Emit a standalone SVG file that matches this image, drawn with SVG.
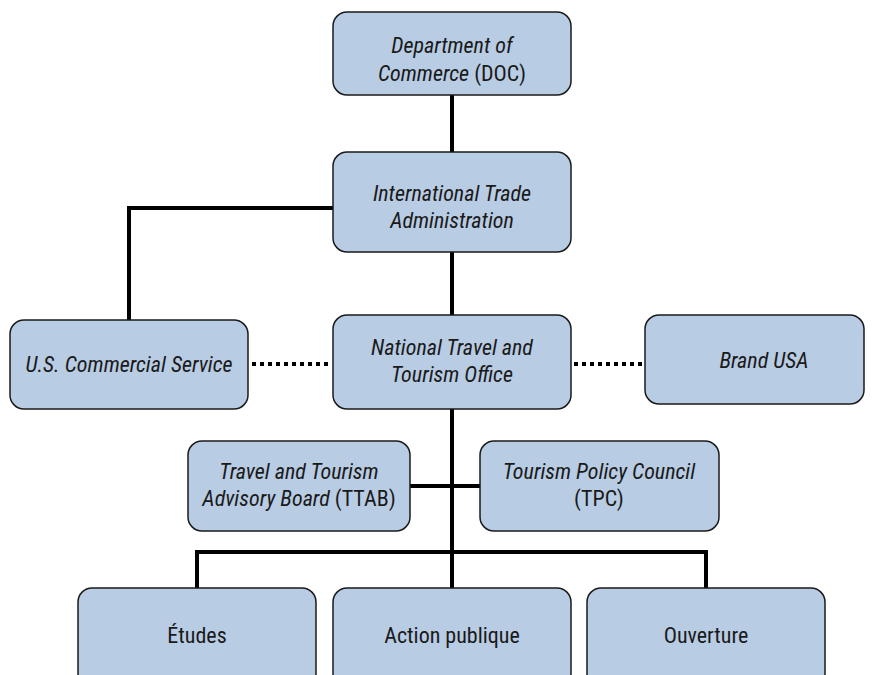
<svg xmlns="http://www.w3.org/2000/svg" width="874" height="675" viewBox="0 0 874 675">
<style>
.box{fill:#b8cce4;stroke:#1a1a1a;stroke-width:1.5}
.t{font-family:"Liberation Sans Narrow","Roboto Condensed","DejaVu Sans Condensed","Liberation Sans",sans-serif;font-size:22px;fill:#1a1a1a;text-anchor:middle}
.i{font-style:italic}
.ln{fill:none;stroke:#000;stroke-width:4}
.dot{fill:none;stroke:#000;stroke-width:4;stroke-dasharray:4 4}
</style>
<rect width="874" height="675" fill="#fff"/>
<g id="connectors">
<line class="ln" x1="452" y1="95" x2="452" y2="152"/>
<polyline class="ln" points="333,208 129,208 129,320"/>
<line class="ln" x1="452" y1="252" x2="452" y2="315"/>
<line class="ln" x1="452" y1="409" x2="452" y2="588"/>
<line class="ln" x1="410" y1="486" x2="480" y2="486"/>
<polyline class="ln" points="197,588 197,552 706,552 706,588"/>
<line class="dot" x1="252" y1="364" x2="331" y2="364"/>
<line class="dot" x1="574" y1="364" x2="643" y2="364"/>
</g>
<g id="doc"><rect class="box" x="333" y="12" width="238" height="83" rx="14"/>
<text class="t" x="452" y="53"><tspan class="i">Department of</tspan></text>
<text class="t" x="452" y="81"><tspan class="i">Commerce</tspan> (DOC)</text></g>
<g id="ita"><rect class="box" x="333" y="152" width="238" height="100" rx="14"/>
<text class="t i" x="452" y="201">International Trade</text>
<text class="t i" x="452" y="228">Administration</text></g>
<g id="uscs"><rect class="box" x="10" y="320" width="238" height="89" rx="14"/>
<text class="t i" x="129" y="372">U.S. Commercial Service</text></g>
<g id="ntto"><rect class="box" x="333" y="315" width="238" height="94" rx="14"/>
<text class="t i" x="452" y="355">National Travel and</text>
<text class="t i" x="452" y="382">Tourism Office</text></g>
<g id="brand"><rect class="box" x="645" y="315" width="219" height="89" rx="14"/>
<text class="t i" x="764" y="368">Brand USA</text></g>
<g id="ttab"><rect class="box" x="188" y="441" width="222" height="90" rx="14"/>
<text class="t i" x="299" y="479">Travel and Tourism</text>
<text class="t" x="299" y="506"><tspan class="i">Advisory Board</tspan> (TTAB)</text></g>
<g id="tpc"><rect class="box" x="480" y="441" width="239" height="90" rx="14"/>
<text class="t i" x="599" y="479">Tourism Policy Council</text>
<text class="t" x="599" y="506">(TPC)</text></g>
<g id="etudes"><rect class="box" x="78" y="588" width="238" height="100" rx="14"/>
<text class="t" x="197" y="643">Études</text></g>
<g id="action"><rect class="box" x="333" y="588" width="238" height="100" rx="14"/>
<text class="t" x="452" y="643">Action publique</text></g>
<g id="ouverture"><rect class="box" x="587" y="588" width="238" height="100" rx="14"/>
<text class="t" x="706" y="643">Ouverture</text></g>
</svg>
